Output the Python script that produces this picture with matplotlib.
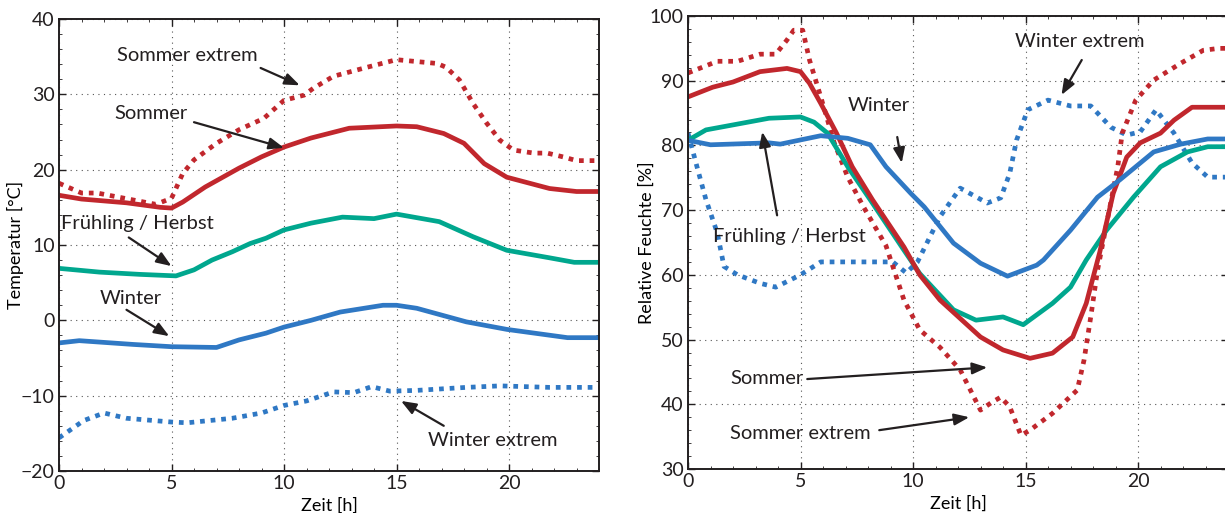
import numpy as np
import matplotlib as mpl
mpl.use('Agg')
import matplotlib.pyplot as plt
from matplotlib.ticker import MultipleLocator

plt.rcParams['font.family'] = ['Lato', 'DejaVu Sans']
plt.rcParams['text.color'] = '#231f20'

RED = '#c1272d'
GREEN = '#00a78e'
BLUE = '#2f78c4'

# --- Temperatur (left panel) ---
t_se = [0, 1, 1.7, 4.3, 5, 5.5, 6, 7, 8, 9.1, 10, 10.9, 11.3, 12.2, 13.7, 15, 16.8, 17.2,
        17.8, 18.4, 19, 19.6, 20.2, 21.1, 21.7, 22.4, 23, 24]
T_se = [18.2, 16.9, 16.9, 15.4, 16.2, 19.5, 21.3, 23.5, 25.3, 26.8, 29.2, 29.9, 30.8, 32.4,
        33.6, 34.6, 34.1, 33.6, 31.9, 28.8, 26.2, 23.9, 22.6, 22.2, 22.2, 21.7, 21.2, 21.2]

t_s = [0, 1, 3, 4.5, 5, 5.5, 6.5, 8, 9, 10, 11.2, 12.9, 15, 15.9, 17.1, 18, 18.9, 19.9,
       21.8, 23, 24]
T_s = [16.6, 16.1, 15.6, 15.0, 14.9, 15.7, 17.7, 20.2, 21.7, 23.0, 24.2, 25.5, 25.8, 25.7,
       24.8, 23.5, 20.8, 19.0, 17.5, 17.1, 17.1]

t_fh = [0, 1.8, 3.6, 5.2, 6, 6.8, 7.7, 8.5, 9.2, 10, 11.2, 12.6, 14, 15, 16.9, 18.4, 19.9,
        21.8, 22.9, 24]
T_fh = [6.9, 6.4, 6.1, 5.9, 6.7, 8.0, 9.1, 10.2, 10.9, 12.0, 12.9, 13.7, 13.5, 14.1, 13.1,
        11.1, 9.3, 8.3, 7.7, 7.7]

t_w = [0, 0.9, 3.3, 5, 7, 8, 9.2, 10, 11.2, 12.5, 14.4, 15, 15.9, 18.1, 19.9, 22.6, 24]
T_w = [-3.0, -2.7, -3.2, -3.5, -3.6, -2.6, -1.7, -0.9, 0.0, 1.1, 2.0, 2.0, 1.6, -0.2, -1.2,
       -2.3, -2.3]

t_we = [0, 1.1, 2, 3, 5, 5.7, 7.7, 9, 10, 11, 12.2, 13.1, 13.9, 14.7, 15.9, 18.1, 19.6,
        21.8, 24]
T_we = [-15.6, -13.3, -12.3, -13.0, -13.5, -13.6, -13.0, -12.3, -11.3, -10.7, -9.5, -9.6,
        -8.8, -9.4, -9.3, -8.9, -8.7, -8.9, -8.9]

# --- Relative Feuchte (right panel) ---
h_se = [0, 1.3, 2.2, 3.2, 3.9, 4.4, 4.7, 5.1, 5.4, 5.9, 6.5, 7.1, 7.8, 8.8, 9.6, 10.3,
        11.2, 12.1, 13, 13.5, 13.9, 14.3, 14.8, 15.2, 16.2, 17.3, 17.6, 17.9, 18.2, 19.1,
        19.3, 19.9, 20.7, 21.9, 22.9, 23.6, 24]
RH_se = [91.2, 93.0, 93.0, 94.1, 94.1, 96.3, 97.8, 97.8, 93.2, 87.5, 80.4, 75.1, 70.5, 64.5,
         56.1, 51.5, 48.8, 45.3, 39.1, 40.3, 41.1, 39.6, 35.2, 36.0, 38.6, 42.2, 46.8, 53.5,
         60.7, 76.7, 81.9, 87.0, 90.1, 92.7, 94.7, 95.0, 95.0]

h_s = [0, 1.1, 2, 3.2, 4.4, 5, 5.4, 5.9, 6.6, 7.3, 8.2, 9.6, 10.3, 11.2, 13, 14, 15.2, 16.2,
       17.1, 17.7, 18.3, 18.9, 19.5, 20.1, 21, 21.6, 22.4, 24]
RH_s = [87.5, 89.0, 89.8, 91.4, 91.9, 91.4, 89.6, 86.5, 81.9, 76.7, 71.6, 64.3, 60.0, 56.1,
        50.4, 48.4, 47.1, 47.9, 50.4, 55.6, 63.5, 72.6, 78.2, 80.4, 81.9, 83.9, 85.9, 85.9]

h_fh = [0, 0.8, 2.2, 3.6, 5, 5.6, 6.2, 7.1, 8.1, 9.6, 10.3, 11.8, 12.8, 14, 14.9, 16.2, 17,
        17.7, 18.6, 19.8, 21, 22.2, 23.1, 24]
RH_fh = [80.8, 82.4, 83.3, 84.2, 84.4, 83.6, 81.9, 76.7, 71.6, 63.8, 60.2, 54.6, 53.0, 53.5,
         52.3, 55.6, 58.1, 62.3, 66.9, 72.0, 76.7, 79.0, 79.8, 79.8]

h_w = [0, 1, 3.6, 4.1, 5.9, 7.1, 8.1, 8.8, 9.9, 10.5, 11.8, 13, 14.2, 15.5, 15.8, 17, 18.2,
       19.2, 20.7, 21.9, 23.1, 24]
RH_w = [80.8, 80.1, 80.4, 80.2, 81.5, 81.1, 80.1, 76.7, 72.6, 70.5, 64.9, 61.8, 59.8, 61.5,
        62.3, 66.9, 72.0, 74.7, 79.0, 80.2, 81.0, 81.0]

h_we = [0, 0.4, 0.8, 1.3, 1.6, 2.2, 3.2, 3.9, 5, 5.9, 7.3, 9.1, 9.7, 10.2, 11.2, 12.1,
        13.3, 13.9, 14.3, 14.6, 15.1, 16, 17, 17.9, 18.8, 19.5, 20.1, 20.8, 21.6, 22.4,
        23.1, 24]
RH_we = [81.9, 76.7, 71.6, 66.5, 61.3, 60.0, 58.7, 58.1, 60.0, 62.0, 62.0, 62.0, 60.3, 62.0,
         69.0, 73.4, 71.1, 71.9, 75.7, 80.8, 85.5, 87.0, 86.1, 86.1, 82.8, 81.6, 82.1, 85.5,
         81.9, 77.3, 75.1, 75.1]

W, H = 1225, 513
fig = plt.figure(figsize=(W / 100, H / 100), dpi=100)
ax1 = fig.add_axes([59 / W, (H - 471) / H, 540 / W, 452 / H])
ax2 = fig.add_axes([688 / W, (H - 469) / H, 540 / W, 453 / H])

dot = (0, (1.0, 1.25))
lw = 3.4

ax1.plot(t_we, T_we, color=BLUE, lw=lw, ls=dot)
ax1.plot(t_w, T_w, color=BLUE, lw=lw)
ax1.plot(t_fh, T_fh, color=GREEN, lw=lw)
ax1.plot(t_se, T_se, color=RED, lw=lw, ls=dot)
ax1.plot(t_s, T_s, color=RED, lw=lw)

ax2.plot(h_we, RH_we, color=BLUE, lw=lw, ls=dot)
ax2.plot(h_se, RH_se, color=RED, lw=lw, ls=dot)
ax2.plot(h_fh, RH_fh, color=GREEN, lw=lw)
ax2.plot(h_s, RH_s, color=RED, lw=lw)
ax2.plot(h_w, RH_w, color=BLUE, lw=lw)

for ax, ylo, yhi in ((ax1, -20, 40), (ax2, 30, 100)):
    ax.set_xlim(0, 24)
    ax.set_ylim(ylo, yhi)
    ax.xaxis.set_major_locator(MultipleLocator(5))
    ax.yaxis.set_major_locator(MultipleLocator(10))
    ax.xaxis.set_minor_locator(MultipleLocator(1))
    ax.yaxis.set_minor_locator(MultipleLocator(2))
    ax.grid(True, which='major', ls=(0, (1, 4)), color='#555555', lw=0.8)
    ax.tick_params(which='both', direction='in', top=True, right=True, labelsize=14,
                   colors='#231f20', pad=3)
    ax.tick_params(which='major', length=5, width=1)
    ax.tick_params(which='minor', length=2.5, width=0.6)
    for sp in ax.spines.values():
        sp.set_linewidth(1.4)
        sp.set_color('#231f20')
    ax.set_xlabel('Zeit [h]', fontsize=13)
    ax.xaxis.set_label_coords(0.5, -0.058)

ax1.set_ylabel('Temperatur [°C]', fontsize=13)
ax1.yaxis.set_label_coords(-0.065, 0.5)
ax2.set_ylabel('Relative Feuchte [%]', fontsize=13)
ax2.yaxis.set_label_coords(-0.061, 0.5)

arw = dict(arrowstyle='-|>,head_length=0.9,head_width=0.35', color='#231f20', lw=1.6,
           shrinkA=0, shrinkB=0)
fs = 14.5

ax1.text(5.7, 35.1, 'Sommer extrem', fontsize=fs, ha='center', va='center')
ax1.annotate('', xy=(10.7, 31.2), xytext=(8.96, 33.5), arrowprops=arw)
ax1.text(4.1, 27.5, 'Sommer', fontsize=fs, ha='center', va='center')
ax1.annotate('', xy=(10.0, 22.9), xytext=(6.0, 26.3), arrowprops=arw)
ax1.text(3.5, 12.8, 'Frühling / Herbst', fontsize=fs, ha='center', va='center')
ax1.annotate('', xy=(5.0, 7.2), xytext=(3.1, 11.0), arrowprops=arw)
ax1.text(3.2, 2.9, 'Winter', fontsize=fs, ha='center', va='center')
ax1.annotate('', xy=(4.9, -2.1), xytext=(3.0, 1.4), arrowprops=arw)
ax1.text(19.3, -15.9, 'Winter extrem', fontsize=fs, ha='center', va='center')
ax1.annotate('', xy=(15.2, -10.7), xytext=(17.1, -14.0), arrowprops=arw)

ax2.text(17.4, 96.0, 'Winter extrem', fontsize=fs, ha='center', va='center')
ax2.annotate('', xy=(16.6, 87.8), xytext=(17.5, 93.2), arrowprops=arw)
ax2.text(8.5, 86.1, 'Winter', fontsize=fs, ha='center', va='center')
ax2.annotate('', xy=(9.5, 77.3), xytext=(9.3, 81.3), arrowprops=arw)
ax2.text(4.5, 66.0, 'Frühling / Herbst', fontsize=fs, ha='center', va='center')
ax2.annotate('', xy=(3.3, 82.1), xytext=(3.96, 69.2), arrowprops=arw)
ax2.text(3.5, 44.0, 'Sommer', fontsize=fs, ha='center', va='center')
ax2.annotate('', xy=(13.3, 45.7), xytext=(5.3, 43.9), arrowprops=arw)
ax2.text(5.0, 35.5, 'Sommer extrem', fontsize=fs, ha='center', va='center')
ax2.annotate('', xy=(12.5, 38.0), xytext=(8.5, 36.0), arrowprops=arw)

fig.savefig('out.png', dpi=100)
plt.close(fig)
